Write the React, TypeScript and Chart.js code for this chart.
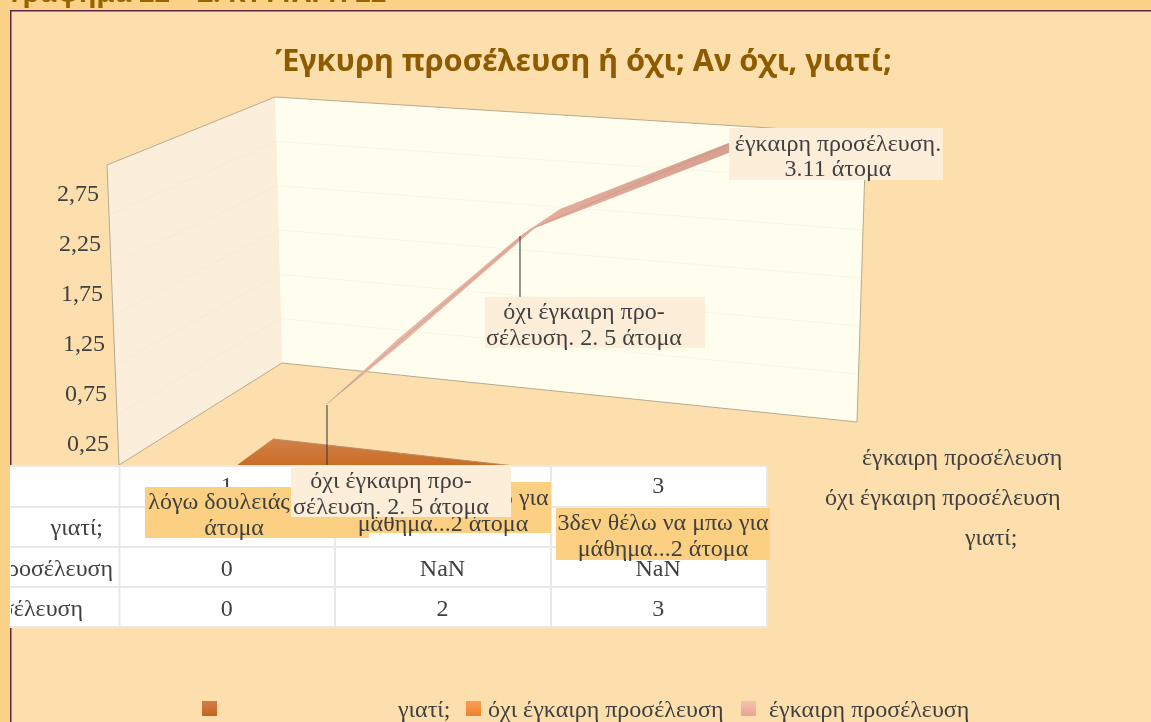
import React, { useEffect, useRef } from "react";
import { Chart, registerables } from "chart.js";

Chart.register(...registerables);

const categories = [1, 2, 3];
const onTimeValues = [0, 2, 3];
const lateValues = [0, NaN, NaN];
const reasonValues = [0, 0, 0];
const axisTicks = [0.25, 0.75, 1.25, 1.75, 2.25, 2.75];
const gridValues = [0.5, 1, 1.5, 2, 2.5];
const seriesOnTime = "έγκαιρη προσέλευση";
const seriesLate = "όχι έγκαιρη προσέλευση";
const seriesReason = "γιατί;";
const chartTitle = "Έγκυρη προσέλευση ή όχι; Αν όχι, γιατί;";
const pageHeading = "Γράφημα 22 – Σ. ΚΥΤΤΑΡΗ 22";
const lateLabel = ["όχι έγκαιρη προ-", "σέλευση. 2. 5 άτομα"];
const onTimeLabel = ["έγκαιρη προσέλευση.", "3.11 άτομα"];
const reasonLabel1 = ["λόγω δουλειάς...1", "άτομα"];
const reasonLabel2 = ["2δεν θέλω να μπω για", "μάθημα...2 άτομα"];
const reasonLabel3 = ["3δεν θέλω να μπω για", "μάθημα...2 άτομα"];

const SERIF = '"Liberation Serif"';
const TEXT = "#404040";
const FONT = `24px ${SERIF}`;

function poly(ctx: any, pts: number[][], fill?: any, stroke?: string) {
  ctx.beginPath();
  pts.forEach((p, i) => (i ? ctx.lineTo(p[0], p[1]) : ctx.moveTo(p[0], p[1])));
  ctx.closePath();
  if (fill) {
    ctx.fillStyle = fill;
    ctx.fill();
  }
  if (stroke) {
    ctx.strokeStyle = stroke;
    ctx.lineWidth = 1;
    ctx.stroke();
  }
}

function seg(ctx: any, a: number[], b: number[], color: string, w = 1) {
  ctx.beginPath();
  ctx.moveTo(a[0], a[1]);
  ctx.lineTo(b[0], b[1]);
  ctx.strokeStyle = color;
  ctx.lineWidth = w;
  ctx.stroke();
}

function labelBox(ctx: any, box: number[], fill: string, lines: string[], cx: number, ys: number[]) {
  ctx.fillStyle = fill;
  ctx.fillRect(box[0], box[1], box[2] - box[0], box[3] - box[1]);
  ctx.fillStyle = TEXT;
  ctx.font = FONT;
  ctx.textAlign = "center";
  ctx.textBaseline = "middle";
  lines.forEach((t, i) => ctx.fillText(t, cx, ys[i]));
}

const scenePlugin = {
  id: "scene",
  beforeDraw(chart: any) {
    const { ctx } = chart;
    const yS = chart.scales.y;
    const xS = chart.scales.x;
    ctx.save();
    // page + panel
    ctx.fillStyle = "#fbd388";
    ctx.fillRect(0, 0, 1151, 722);
    ctx.fillStyle = "#fcdfac";
    ctx.fillRect(11, 11, 1140, 711);
    ctx.fillStyle = "#5f2448";
    ctx.fillRect(10, 10, 1141, 1.5);
    ctx.fillRect(10, 10, 1.5, 712);
    // clipped page heading
    ctx.fillStyle = "#966500";
    ctx.font = 'bold 27px "Noto Sans"';
    ctx.textAlign = "left";
    ctx.textBaseline = "alphabetic";
    ctx.fillText(pageHeading, 10, 2);

    // walls
    const frontTop = [107, 165], frontBot = [119, 465];
    const backTL = [275, 97], backBL = [282, 363], backTR = [866, 134], backBR = [857, 422];
    poly(ctx, [frontTop, backTL, backBL, frontBot], "#fbeedb");
    poly(ctx, [backTL, backTR, backBR, backBL], "#fffeee");
    const lerp = (a: number[], b: number[], t: number) => [a[0] + (b[0] - a[0]) * t, a[1] + (b[1] - a[1]) * t];
    gridValues.forEach((v) => {
      const t = 1 - v / 3;
      const l = lerp(backTL, backBL, t), r = lerp(backTR, backBR, t), f = lerp(frontTop, frontBot, t);
      seg(ctx, l, r, "rgba(190,185,160,0.1)");
      seg(ctx, f, l, "rgba(215,195,160,0.1)");
    });
    const edge = "#b8ab90";
    seg(ctx, frontBot, frontTop, edge);
    seg(ctx, frontTop, backTL, edge);
    seg(ctx, backTL, backTR, edge);
    seg(ctx, backTR, backBR, edge);
    seg(ctx, backBR, backBL, edge);
    seg(ctx, backBL, frontBot, edge);

    // floor ribbon of the reason series
    const reasonPts = chart.getDatasetMeta(2).data;
    const g = ctx.createLinearGradient(0, 438, 0, 466);
    g.addColorStop(0, "#d2824c");
    g.addColorStop(1, "#c96c24");
    const a = reasonPts[0], c = reasonPts[2];
    poly(ctx, [[a.x + 46, a.y - 29], [c.x, c.y + 14], [a.x - 13, a.y + 14]], g);
    seg(ctx, [a.x + 46, a.y - 29], [c.x, c.y + 14], "#b98d62");

    // data table
    const left = 10, right = 767;
    const rows = [466, 507, 547, 587, 627];
    ctx.fillStyle = "#ffffff";
    ctx.fillRect(left, rows[0], right - left, rows[4] - rows[0]);
    const lineCol = "#e8e8e8";
    rows.forEach((y) => seg(ctx, [left, y], [right, y], lineCol, 2));
    [119.5, 335, 551, 767].forEach((x) => seg(ctx, [x, rows[0]], [x, rows[4] + 1], lineCol, 2));
    ctx.font = FONT;
    ctx.fillStyle = TEXT;
    ctx.textBaseline = "middle";
    ctx.save();
    ctx.beginPath();
    ctx.rect(11, rows[0], 108, rows[4] - rows[0]);
    ctx.clip();
    ctx.textAlign = "right";
    ctx.fillText(seriesReason, 103, 529);
    ctx.fillText(seriesLate, 113, 570);
    ctx.fillText(seriesOnTime, 83, 610);
    ctx.restore();
    ctx.textAlign = "center";
    categories.forEach((_, i) => {
      const x = xS.getPixelForTick(i);
      ctx.fillText(String(lateValues[i]), x, 570);
      ctx.fillText(String(onTimeValues[i]), x, 610);
    });
    ctx.restore();

    // skew the value-axis labels along the slanted front edge
    yS.getLabelItems().forEach((item: any, i: number) => {
      const v = yS.ticks[i].value;
      item.options.translation[0] = 109 - (v - 0.25) * 4;
      item.options.translation[1] += 2;
    });
  },
  beforeDatasetsDraw(chart: any) {
    const { ctx } = chart;
    const p = chart.getDatasetMeta(0).data;
    const g = ctx.createLinearGradient(327, 404, 735, 145);
    g.addColorStop(0, "#b9a08e");
    g.addColorStop(0.1, "#e6b8a8");
    g.addColorStop(0.5, "#e6b0a0");
    g.addColorStop(1, "#d69f90");
    const mid = (t: number, ox: number, oy: number) => [
      p[0].x + (p[1].x - p[0].x) * t + ox,
      p[0].y + (p[1].y - p[0].y) * t + oy,
    ];
    poly(ctx, [
      [p[0].x, p[0].y],
      mid(0.35, 2, 2),
      [p[1].x + 4, p[1].y - 1],
      [p[2].x, p[2].y + 9],
      [p[2].x, p[2].y - 1],
      [p[1].x + 29, p[1].y - 20],
      [p[1].x - 11, p[1].y + 7],
      mid(0.35, -2, -2.5),
    ], g);
  },
  afterDraw(chart: any) {
    const { ctx } = chart;
    const p = chart.getDatasetMeta(0).data;
    ctx.save();
    // leaders
    seg(ctx, [p[0].x, p[0].y + 1], [p[0].x, 466], "#333333", 1);
    seg(ctx, [p[1].x - 11, p[1].y + 7], [p[1].x - 11, 297], "#333333", 1);
    // data labels
    const orange = "#fbd082", pale = "#fdeeda";
    labelBox(ctx, [145, 487, 369, 538], orange, reasonLabel1, 234, [503, 529]);
    labelBox(ctx, [337, 482, 551, 533], orange, reasonLabel2, 443, [499, 525]);
    labelBox(ctx, [556, 508, 770, 560], orange, reasonLabel3, 663, [524, 550]);
    labelBox(ctx, [291, 465, 511, 517], pale, lateLabel, 391, [482, 508]);
    labelBox(ctx, [485, 297, 705, 348], pale, lateLabel, 584, [313, 339]);
    labelBox(ctx, [729, 128, 943, 180], pale, onTimeLabel, 838, [145, 170]);
    // depth-axis labels
    ctx.fillStyle = TEXT;
    ctx.font = FONT;
    ctx.textAlign = "left";
    ctx.textBaseline = "middle";
    ctx.fillText(seriesOnTime, 862, 459);
    ctx.fillText(seriesLate, 825, 499);
    ctx.fillText(seriesReason, 965, 539);
    // legend
    const swatch = (x: number, c1: string, c2: string) => {
      const g = ctx.createLinearGradient(0, 701, 0, 716);
      g.addColorStop(0, c1);
      g.addColorStop(1, c2);
      ctx.fillStyle = g;
      ctx.fillRect(x, 701, 15, 15);
    };
    swatch(202, "#d27e4c", "#c46418");
    swatch(466, "#fb9e55", "#ef8030");
    swatch(741, "#f8c2b0", "#e8a592");
    ctx.fillStyle = TEXT;
    ctx.fillText(seriesReason, 398, 711);
    ctx.fillText(seriesLate, 488, 711);
    ctx.fillText(seriesOnTime, 769, 711);
    ctx.restore();
  },
};

export default function App() {
  const ref = useRef<HTMLCanvasElement>(null);
  useEffect(() => {
    document.body.style.margin = "0";
    const chart = new Chart(ref.current as HTMLCanvasElement, {
      type: "line",
      data: {
        labels: categories.map(String),
        datasets: [
          {
            label: seriesOnTime,
            data: categories.map((c, i) => ({ x: c, y: onTimeValues[i] })),
            xAxisID: "xDepth",
            yAxisID: "yDepth",
            borderColor: "rgba(200,145,130,0.6)",
            borderWidth: 1,
            pointRadius: 0,
            tension: 0,
            clip: false,
          },
          {
            label: seriesLate,
            data: lateValues,
            xAxisID: "x",
            yAxisID: "y",
            borderColor: "#f08a3c",
            borderWidth: 0,
            pointRadius: 0,
            showLine: false,
          },
          {
            label: seriesReason,
            data: reasonValues,
            xAxisID: "x",
            yAxisID: "y",
            borderColor: "#c96c24",
            borderWidth: 0,
            pointRadius: 0,
            showLine: false,
          },
        ],
      },
      options: {
        responsive: false,
        animation: false,
        events: [],
        layout: { padding: { left: 16, right: 0, top: 44, bottom: 214 } },
        plugins: {
          legend: { display: false },
          tooltip: { enabled: false },
          title: {
            display: true,
            text: chartTitle,
            color: "#8f5b00",
            font: { family: '"Noto Sans"', size: 30.7, weight: "bold", lineHeight: 1.2 },
            padding: { top: 0, bottom: 87.2 },
          },
        },
        scales: {
          x: {
            type: "category",
            offset: true,
            grid: { display: false, drawTicks: false },
            border: { display: false },
            afterFit: (s: any) => { s.height = 40; },
            ticks: { color: TEXT, font: { family: SERIF, size: 24 }, padding: 4, maxRotation: 0 },
          },
          y: {
            type: "linear",
            min: 0,
            max: 3,
            grid: { display: false, drawTicks: false },
            border: { display: false },
            afterFit: (s: any) => { s.width = 103; },
            afterBuildTicks: (s: any) => { s.ticks = axisTicks.map((value) => ({ value })); },
            ticks: {
              color: TEXT,
              font: { family: SERIF, size: 24 },
              callback: (v: any) => Number(v).toFixed(2).replace(".", ","),
            },
          },
          xDepth: { type: "linear", display: false, min: -0.0196, max: 3.152 },
          yDepth: {
            type: "linear",
            position: "right",
            min: -0.7314,
            max: 2.6972,
            grid: { display: false, drawTicks: false },
            border: { display: false },
            ticks: { display: false },
            afterFit: (s: any) => { s.width = 385; },
          },
        },
      },
      plugins: [scenePlugin],
    } as any);
    return () => chart.destroy();
  }, []);
  return (
    <div style={{ position: "fixed", left: 0, top: 0, width: 1151, height: 722 }}>
      <canvas ref={ref} width={1151} height={722} style={{ display: "block" }} />
    </div>
  );
}
